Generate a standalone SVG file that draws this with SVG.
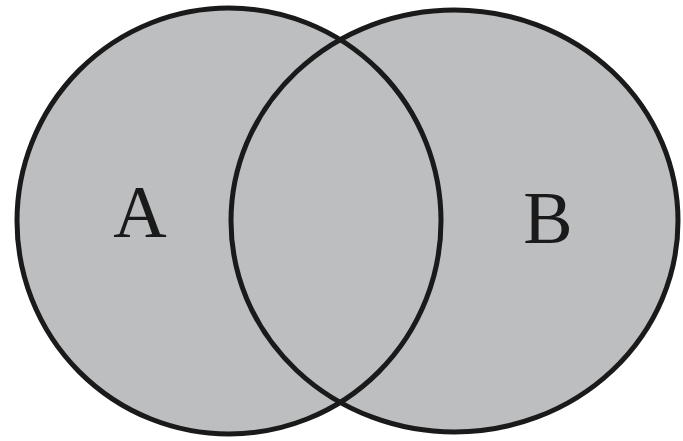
<svg xmlns="http://www.w3.org/2000/svg" width="683" height="441" viewBox="0 0 683 441">
<style>
.fill{fill:#bcbec0;stroke:none}
.edge{fill:none;stroke:#1a1a1a;stroke-width:5}
.lbl{font-family:"Liberation Serif","Times New Roman",serif;font-size:74px;fill:#1a1a1a;text-anchor:middle}
</style>
<rect width="683" height="441" fill="#ffffff"/>
<g id="fills">
<ellipse class="fill" cx="229" cy="221" rx="212" ry="213"/>
<ellipse class="fill" cx="454.5" cy="221" rx="223.5" ry="211"/>
</g>
<g id="setA">
<ellipse class="edge" cx="229" cy="221" rx="212" ry="213"/>
<text class="lbl" x="140" y="237">A</text>
</g>
<g id="setB">
<ellipse class="edge" cx="454.5" cy="221" rx="223.5" ry="211"/>
<text class="lbl" x="548" y="243">B</text>
</g>
</svg>
